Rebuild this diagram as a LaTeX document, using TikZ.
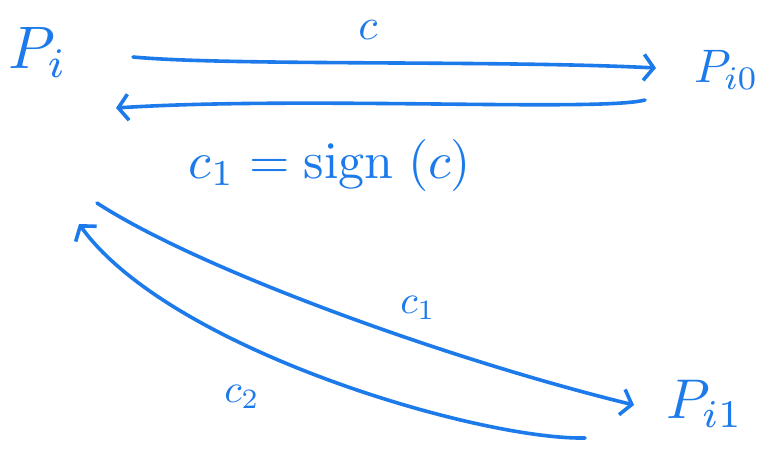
\documentclass[tikz,border=0pt]{standalone}
\usepackage{graphicx}
\usetikzlibrary{arrows.meta}
\definecolor{ink}{RGB}{28,122,235}
\tikzset{
  pen/.style={draw=ink, line width=3.6pt, line cap=round, line join=round},
  arr/.style={pen, -{Straight Barb[length=10pt,width=26pt,line width=3.6pt]}},
  lbl/.style={text=ink, inner sep=0pt},
}
\newcommand{\hw}[2]{\scalebox{#1}{#2}}
\begin{document}
\begin{tikzpicture}[x=1pt,y=-1pt]
\useasboundingbox (0,0) rectangle (759,453);
\clip (0,0) rectangle (759,453);
\fill[white] (0,0) rectangle (759,453);
% nodes (labels)
\node[lbl] (pi) at (38,52) {\hw{6}{$P_{i}$}};
\node[lbl, anchor=west] (pi0) at (694,70) {\hw{4.7}{$P_{i0}$}};
\node[lbl, anchor=west] (pi1) at (666,404) {\hw{5.6}{$P_{i1}$}};
\node[lbl] (lc) at (368,30) {\hw{4.4}{$c$}};
\node[lbl] (lsign) at (330,165) {\hw{5.2}{$c_1 = \mathrm{sign}\;(c)$}};
\node[lbl] (lc1) at (418,308) {\hw{4}{$c_1$}};
\node[lbl] (lc2) at (242,397) {\hw{4}{$c_2$}};
% connector end points
\coordinate (t1) at (133,57);
\coordinate (t2) at (656,68);
\coordinate (r1) at (645,100);
\coordinate (r2) at (116,108);
\coordinate (u1) at (97,203);
\coordinate (u2) at (634,405);
\coordinate (b1) at (585,438);
\coordinate (b2) at (79,224);
% connectors
\draw[arr] (t1) .. controls (230,66) and (500,60) .. (t2);
\draw[arr] (r1) .. controls (600,112) and (300,96) .. (r2);
\draw[arr] (u1) .. controls (200,270) and (450,360) .. (u2);
\draw[arr] (b1) .. controls (480,440) and (170,350) .. (b2);
\end{tikzpicture}
\end{document}
